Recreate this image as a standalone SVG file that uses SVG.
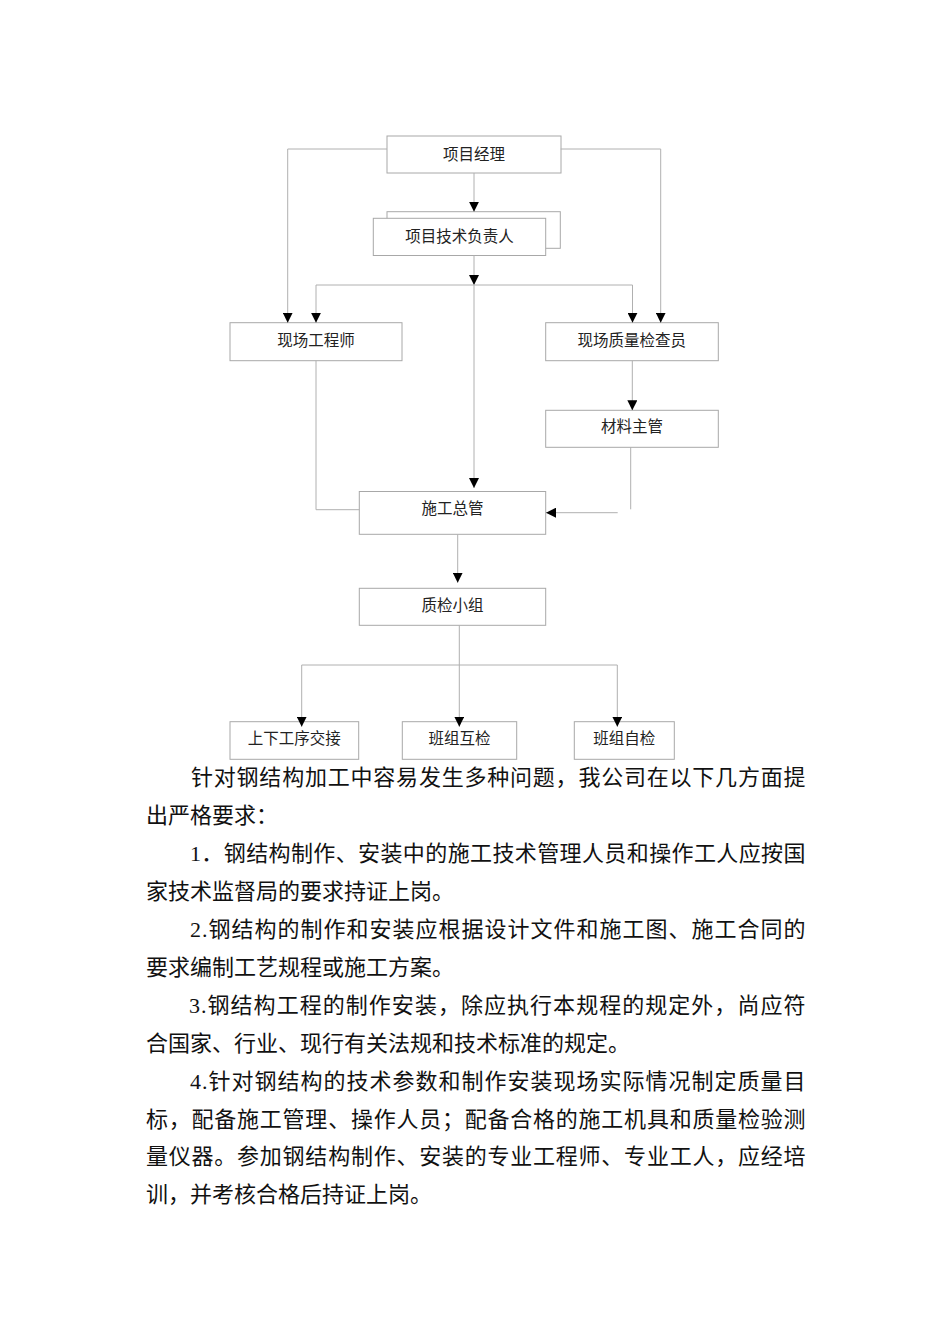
<svg xmlns="http://www.w3.org/2000/svg" width="950" height="1344" viewBox="0 0 950 1344">
<style>
.box{fill:#fff;stroke:#a8a8a8;stroke-width:1}
.lbl{font-family:"Liberation Serif","Noto Sans CJK SC",serif;font-size:15.5px;fill:#222;text-anchor:middle}
.ln{fill:none;stroke:#b0b0b0;stroke-width:1}
.body{font-family:"Liberation Serif","Noto Sans CJK SC",serif;font-size:22px;fill:#111}
</style>
<defs>
<marker id="arr" markerUnits="userSpaceOnUse" markerWidth="10" markerHeight="10" refX="10" refY="5" orient="auto">
<path d="M0,0 L10,5 L0,10 z" fill="#000"/>
</marker>
</defs>
<rect width="950" height="1344" fill="#fff"/>
<g id="pm"><rect class="box" x="387" y="136" width="174" height="37"/><text class="lbl" x="474" y="160.4">项目经理</text></g>
<g id="tech"><rect class="box" x="387" y="211.7" width="173.3" height="36.6"/><rect class="box" x="373.3" y="218.3" width="172.4" height="37.2"/><text class="lbl" x="459.5" y="242.4">项目技术负责人</text></g>
<g id="eng"><rect class="box" x="230" y="322.7" width="172" height="38"/><text class="lbl" x="316" y="346.4">现场工程师</text></g>
<g id="qc"><rect class="box" x="545.7" y="322.7" width="172.6" height="38"/><text class="lbl" x="631.7" y="346.4">现场质量检查员</text></g>
<g id="mat"><rect class="box" x="545.7" y="410.3" width="172.6" height="37"/><text class="lbl" x="632" y="432.4">材料主管</text></g>
<g id="site"><rect class="box" x="359.3" y="491.5" width="186.4" height="42.8"/><text class="lbl" x="452.5" y="514">施工总管</text></g>
<g id="qcg"><rect class="box" x="359.3" y="588.3" width="186.4" height="37"/><text class="lbl" x="452.5" y="610.7">质检小组</text></g>
<g id="b1"><rect class="box" x="230" y="721.7" width="128.7" height="37.6"/><text class="lbl" x="294.3" y="744">上下工序交接</text></g>
<g id="b2"><rect class="box" x="402.3" y="721.7" width="114.4" height="37.6"/><text class="lbl" x="459.5" y="744">班组互检</text></g>
<g id="b3"><rect class="box" x="574.3" y="721.7" width="100" height="37.6"/><text class="lbl" x="624.3" y="744">班组自检</text></g>
<g id="connectors">
<path class="ln" d="M474,173 V211.7" marker-end="url(#arr)"/>
<path class="ln" d="M474,255.5 V285" marker-end="url(#arr)"/>
<path class="ln" d="M316,285 H632.5"/>
<path class="ln" d="M316,285 V322.7" marker-end="url(#arr)"/>
<path class="ln" d="M632.5,285 V322.7" marker-end="url(#arr)"/>
<path class="ln" d="M474,285 V488" marker-end="url(#arr)"/>
<path class="ln" d="M387,149 H287.7 V322.7" marker-end="url(#arr)"/>
<path class="ln" d="M560.7,149 H660.7 V322.7" marker-end="url(#arr)"/>
<path class="ln" d="M632.3,360.7 V410.3" marker-end="url(#arr)"/>
<path class="ln" d="M316,360.7 V509.7 H359.3"/>
<path class="ln" d="M630.7,447 V509.3"/>
<path class="ln" d="M617.7,512.7 H546" marker-end="url(#arr)"/>
<path class="ln" d="M457.7,534.3 V582.7" marker-end="url(#arr)"/>
<path class="ln" d="M459.3,625.3 V726.7" marker-end="url(#arr)"/>
<path class="ln" d="M301.7,665 H617.3"/>
<path class="ln" d="M301.7,665 V726.7" marker-end="url(#arr)"/>
<path class="ln" d="M617.3,665 V726.7" marker-end="url(#arr)"/>
</g>
<g id="body">
<text class="body" x="191" y="785.4" textLength="614.5" lengthAdjust="spacing">针对钢结构加工中容易发生多种问题，我公司在以下几方面提</text>
<text class="body" x="146" y="823.3">出严格要求：</text>
<text class="body" x="190" y="861.2" textLength="615.5" lengthAdjust="spacing">1．钢结构制作、安装中的施工技术管理人员和操作工人应按国</text>
<text class="body" x="146" y="899.1">家技术监督局的要求持证上岗。</text>
<text class="body" x="190" y="937" textLength="615.5" lengthAdjust="spacing">2.钢结构的制作和安装应根据设计文件和施工图、施工合同的</text>
<text class="body" x="146" y="974.9">要求编制工艺规程或施工方案。</text>
<text class="body" x="189" y="1012.8" textLength="616.5" lengthAdjust="spacing">3.钢结构工程的制作安装，除应执行本规程的规定外，尚应符</text>
<text class="body" x="146" y="1050.7">合国家、行业、现行有关法规和技术标准的规定。</text>
<text class="body" x="190" y="1088.6" textLength="615.5" lengthAdjust="spacing">4.针对钢结构的技术参数和制作安装现场实际情况制定质量目</text>
<text class="body" x="146" y="1126.5" textLength="659.5" lengthAdjust="spacing">标，配备施工管理、操作人员；配备合格的施工机具和质量检验测</text>
<text class="body" x="146" y="1164.4" textLength="659.5" lengthAdjust="spacing">量仪器。参加钢结构制作、安装的专业工程师、专业工人，应经培</text>
<text class="body" x="146" y="1202.3">训，并考核合格后持证上岗。</text>
</g>
</svg>
